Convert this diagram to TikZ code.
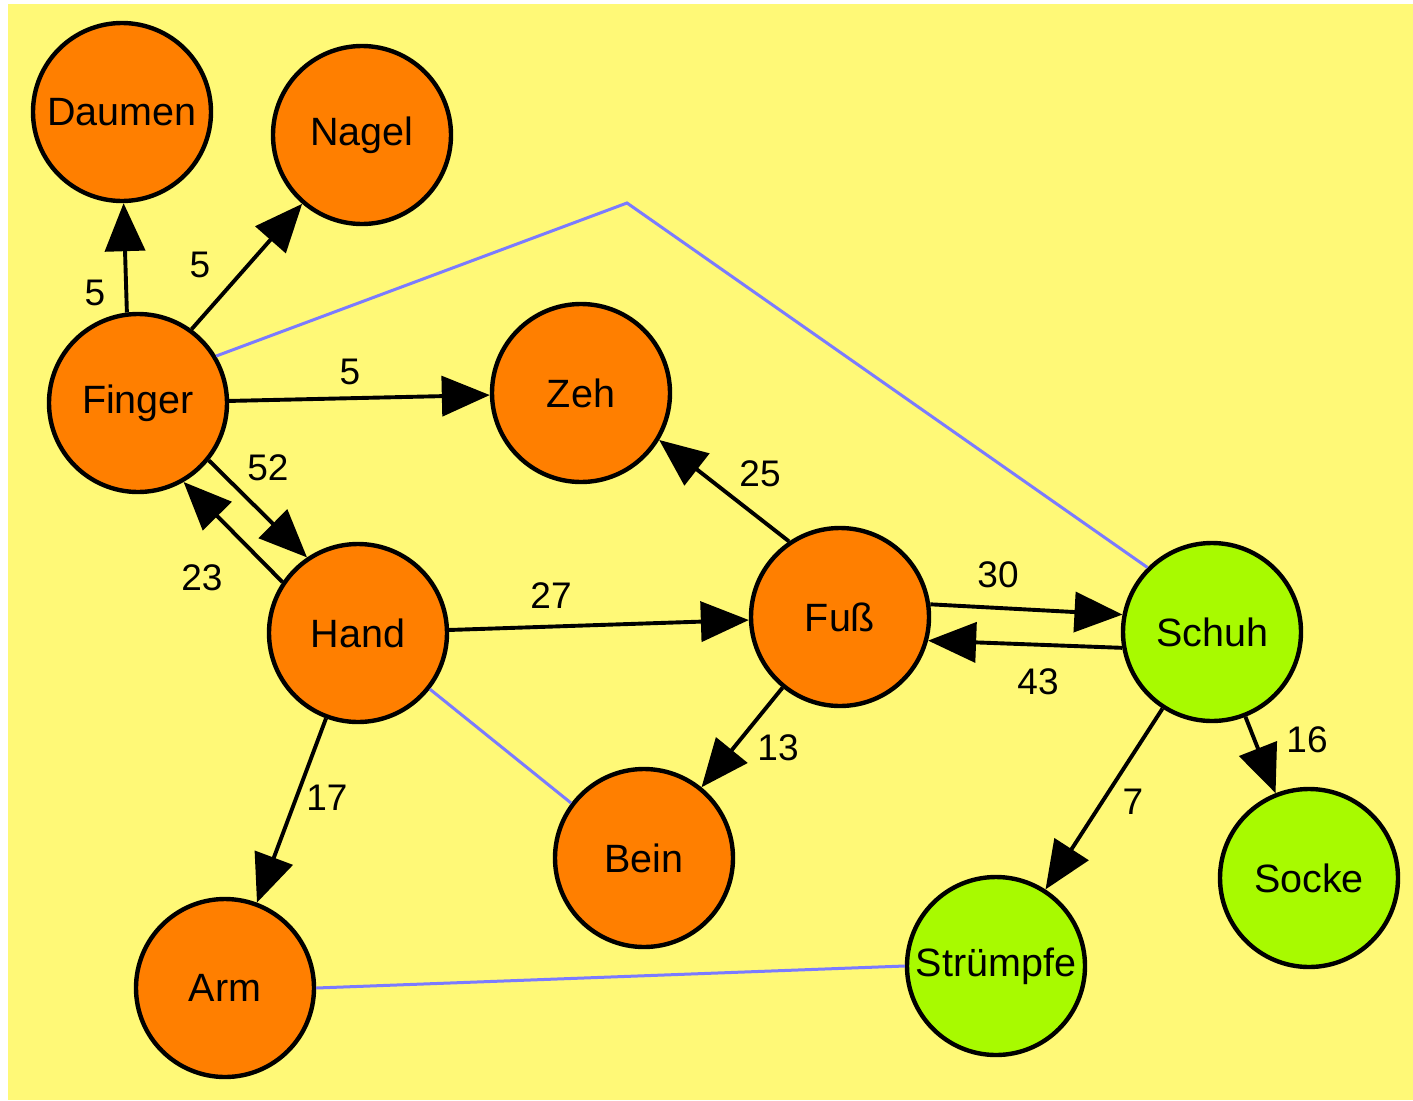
\documentclass[tikz,border=0pt]{standalone}
\usepackage{fontspec}
\setmainfont{Liberation Sans}
\usetikzlibrary{arrows.meta}
\definecolor{bgyellow}{HTML}{FFF977}
\definecolor{orangefill}{HTML}{FF7F00}
\definecolor{greenfill}{HTML}{A8FA00}
\definecolor{linkblue}{HTML}{7B7BFF}
\tikzset{
  concept/.style={circle, draw=black, line width=4.4pt, minimum size=178pt,
    inner sep=0pt, font=\fontsize{39.5}{42}\selectfont},
  body/.style={concept, fill=orangefill},
  wear/.style={concept, fill=greenfill},
  arr/.style={line width=3.9pt, -{Triangle[length=48pt,width=40pt]}},
  link/.style={line width=3pt, linkblue},
  weight/.style={font=\fontsize{37}{40}\selectfont, inner sep=0pt}
}
\begin{document}
\begin{tikzpicture}[x=1pt,y=-1pt]
\useasboundingbox (0,0) rectangle (1413,1100);
\fill[white] (0,0) rectangle (1413,1100);
\fill[bgyellow] (8,4) rectangle (1413,1100);

% concepts
\node[body] (daumen) at (122,112) {Daumen};
\node[body] (nagel)  at (362,135) {Nagel};
\node[body] (finger) at (138,403) {Finger};
\node[body] (zeh)    at (581,393) {Zeh};
\node[body] (hand)   at (358,633) {Hand};
\node[body] (fuss)   at (840,617) {Fuß};
\node[body] (bein)   at (644,858) {Bein};
\node[body] (arm)    at (225,988) {Arm};
\node[wear] (schuh)  at (1212,632) {Schuh};
\node[wear] (socke)  at (1309,878) {Socke};
\node[wear] (struempfe) at (996,966) {Strümpfe};

% undirected links
\coordinate (bend) at (627,203);
\draw[link] (finger.31) -- (bend) -- (schuh.135);
\draw[link] (hand.-38) -- (bein.143);
\draw[link] (arm.east) -- (struempfe.west);

% weighted relations
\draw[arr] (finger.97) -- (daumen.-89);
\draw[arr] (finger.54) -- (nagel.-131);
\draw[arr] (finger) -- (zeh);
\draw[arr] (finger.-39) -- (hand.124);
\draw[arr] (hand.146) -- (finger.-60);
\draw[arr] (hand) -- (fuss);
\draw[arr] (fuss.124) -- (zeh.-31);
\draw[arr] (fuss.8) -- (schuh.169);
\draw[arr] (schuh.-170) -- (fuss.-15);
\draw[arr] (fuss) -- (bein);
\draw[arr] (hand) -- (arm);
\draw[arr] (schuh) -- (socke);
\draw[arr] (schuh) -- (struempfe);

% weights
\node[weight] (w1)  at (95,293)   {5};
\node[weight] (w2)  at (200,265)  {5};
\node[weight] (w3)  at (350,372)  {5};
\node[weight] (w4)  at (268,468)  {52};
\node[weight] (w5)  at (202,578)  {23};
\node[weight] (w6)  at (551,596)  {27};
\node[weight] (w7)  at (760,474)  {25};
\node[weight] (w8)  at (998,575)  {30};
\node[weight] (w9)  at (1038,682) {43};
\node[weight] (w10) at (778,748)  {13};
\node[weight] (w11) at (327,798)  {17};
\node[weight] (w12) at (1307,740) {16};
\node[weight] (w13) at (1133,802) {7};
\end{tikzpicture}
\end{document}
